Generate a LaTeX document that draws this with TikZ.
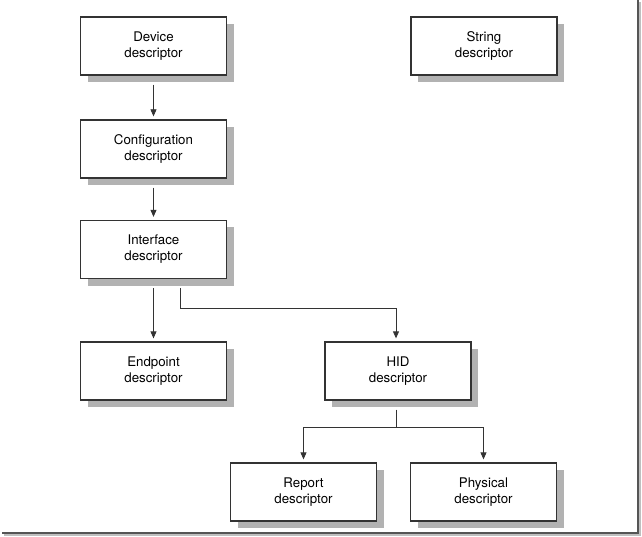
\documentclass[tikz,border=0pt]{standalone}
\usepackage{fontspec}
\setmainfont{TeX Gyre Heros}
\usepackage{tikz}
\usepackage{xcolor}
\usetikzlibrary{arrows.meta,shadows}
\definecolor{dsline}{HTML}{333333}
\definecolor{dsshadow}{HTML}{B2B2B2}
\definecolor{dsframe}{HTML}{555555}

\begin{document}
\begin{tikzpicture}[x=1pt,y=-1pt,
    desc/.style={draw=dsline, line width=1.3pt, fill=white, minimum width=146pt, minimum height=58pt,
      inner sep=0pt, align=center, font=\fontsize{13.3}{16}\selectfont,
      drop shadow={shadow xshift=7pt, shadow yshift=-7pt, fill=dsshadow, opacity=1}},
    conn/.style={draw=dsline, line width=0.8pt, -{Triangle[length=7pt,width=6pt]}, shorten >=3pt}]
  \useasboundingbox (0,0) rectangle (642,537);
  % outer frame, right and bottom only
  \draw[draw=black!25, line width=2pt] (640,2) -- (640,535) -- (4,535);
  \draw[draw=dsframe, line width=1.4pt] (638,0) -- (638,533) -- (2,533);
  \foreach \x/\y/\nm/\lab in {153.5/46/dev/Device, 484/46/str/String, 153.5/149/cfg/Configuration,
      153.5/249.5/intf/Interface, 153.5/371/ep/Endpoint, 398/371/hid/HID,
      303.5/492/rep/Report, 483.5/492/phys/Physical}{
    \node[desc] (\nm) at (\x,\y) {\lab\\descriptor};
  }
  \draw[conn, shorten <=9pt] (dev.south) -- (cfg.north);
  \draw[conn, shorten <=9pt] (cfg.south) -- (intf.north);
  \draw[conn, shorten <=9pt] (intf.south) -- (ep.north);
  \draw[conn, shorten <=9pt] ([xshift=27pt]intf.south) -- ++(0,29) -| ([xshift=-2pt]hid.north);
  \draw[draw=dsline, line width=0.8pt, shorten <=9pt] ([xshift=-2pt]hid.south) -- ++(0,27) coordinate (split);
  \draw[conn] (split) -| (rep.north);
  \draw[conn] (split) -| (phys.north);
\end{tikzpicture}
\end{document}
